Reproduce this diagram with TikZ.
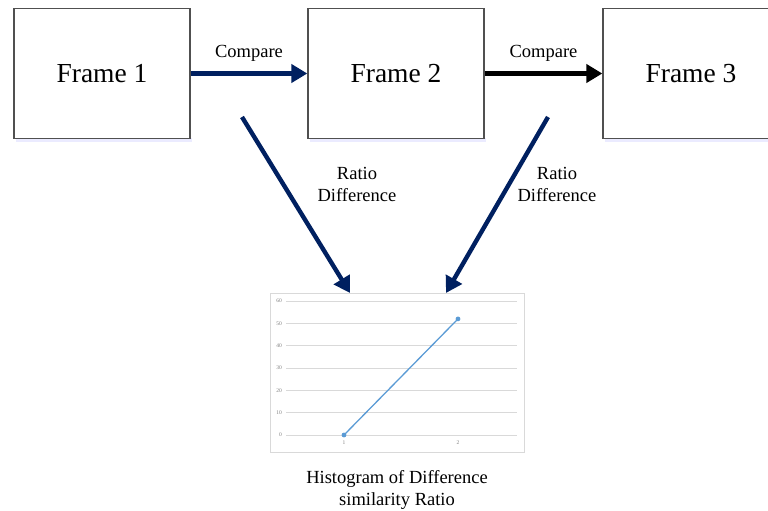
\documentclass[tikz,border=0pt]{standalone}
\usepackage{fontspec}
\setmainfont{Liberation Serif}
\usetikzlibrary{arrows.meta}
\definecolor{navy}{HTML}{002060}
\definecolor{frameline}{HTML}{505050}
\definecolor{gridc}{HTML}{D9D9D9}
\definecolor{seriesc}{HTML}{5B9BD5}
\definecolor{tickc}{HTML}{7F7F7F}
\tikzset{
  framebox/.style={draw=frameline, line width=1.3pt, fill=white, minimum width=176pt, minimum height=130pt, inner sep=0pt, font=\fontsize{27.5}{32}\selectfont},
  flowarrow/.style={line width=4.4pt, -{Triangle[length=16pt,width=18pt]}},
  lbl/.style={font=\fontsize{18.5}{22}\selectfont, align=center, inner sep=0pt},
  tick/.style={font=\fontsize{5.5}{6.5}\selectfont, text=tickc, inner sep=0pt},
}
\begin{document}
\begin{tikzpicture}[x=1pt,y=-1pt]
\useasboundingbox (0,0) rectangle (768,511);
% soft shadows under the frames
\foreach \x in {14,308,603}
  \fill[blue!8] (\x+2,138) rectangle (\x+178,142);
% frames
\node[framebox] (f1) at (102,73.5) {Frame 1};
\node[framebox] (f2) at (396,73.5) {Frame 2};
\node[framebox] (f3) at (691,73.5) {Frame 3};
% compare arrows
\draw[flowarrow, navy] (f1.east) -- (f2.west) node[lbl, text=black, midway, above=10pt] {Compare};
\draw[flowarrow, black] (f2.east) -- (f3.west) node[lbl, midway, above=10pt] {Compare};
% chart
\node[draw=gridc, line width=0.8pt, minimum width=254pt, minimum height=159pt, inner sep=0pt] (chart) at (397,372.5) {};
\foreach \v in {0,10,...,60} {
  \draw[gridc, line width=0.7pt] (286,435-\v*2.233) -- (517,435-\v*2.233);
  \node[tick, anchor=east] at (282,435-\v*2.233) {\v};
}
\node[tick] at (344,443) {1};
\node[tick] at (458,443) {2};
\coordinate (p1) at (344,435);
\coordinate (p2) at (458,318.9);
\draw[seriesc, line width=1.3pt] (p1) -- (p2);
\fill[seriesc] (p1) circle (2.4pt) (p2) circle (2.4pt);
% ratio-difference arrows into the chart
\coordinate (s1) at (242,117);
\coordinate (s2) at (548,117);
\coordinate (t1) at (350,293);
\coordinate (t2) at (446,293);
\draw[flowarrow, navy] (s1) -- (t1);
\draw[flowarrow, navy] (s2) -- (t2);
\node[lbl] (r1) at (357,184) {Ratio\\Difference};
\node[lbl] (r2) at (557,184) {Ratio\\Difference};
% caption
\node[lbl] (cap) at (397,490) {Histogram of Difference\\similarity Ratio};
\end{tikzpicture}
\end{document}
